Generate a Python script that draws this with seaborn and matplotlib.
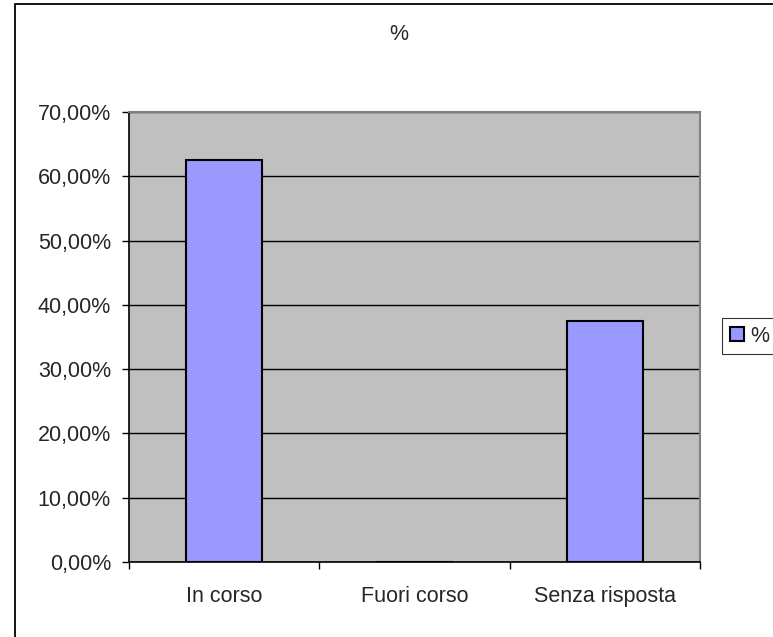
import matplotlib
matplotlib.use('Agg')
import matplotlib.pyplot as plt
from matplotlib.patches import Rectangle
from matplotlib.ticker import FuncFormatter, FixedLocator
import pandas as pd
import seaborn as sns

# data
categories = ['In corso', 'Fuori corso', 'Senza risposta']
values = [62.5, 0.0, 37.5]
series_name = '%'
y_ticks = [0, 10, 20, 30, 40, 50, 60, 70]

df = pd.DataFrame({'cat': categories, 'val': values})

sns.set_style('white')
plt.rcParams['font.family'] = ['Liberation Sans', 'DejaVu Sans']
FS = 15.5

W, H = 773, 637
fig = plt.figure(figsize=(W / 100, H / 100), dpi=100)
fig.patch.set_facecolor('white')

# outer chart border (right and bottom edges fall outside the picture)
fig.patches.append(Rectangle((15 / W, -0.2), 1.5, 1 - 4 / H + 0.2,
                             transform=fig.transFigure, fill=False,
                             edgecolor='black', linewidth=1.3))

left, right, top, bottom = 129, 700, 112, 562
ax = fig.add_axes([left / W, 1 - bottom / H, (right - left) / W, (bottom - top) / H])

sns.barplot(data=df, x='cat', y='val', color='#9999FF', edgecolor='black',
            linewidth=1.5, width=0.4, ax=ax, saturation=1)

ax.set_facecolor('#C0C0C0')
ax.set_xlim(-0.5, 2.5)
ax.set_ylim(0, 70)
ax.set_xlabel('')
ax.set_ylabel('')

ax.yaxis.set_major_locator(FixedLocator(y_ticks))
ax.yaxis.set_major_formatter(FuncFormatter(lambda v, p: f'{v:.2f}%'.replace('.', ',')))
ax.grid(axis='y', color='black', linewidth=1)
ax.grid(axis='x', visible=False)
ax.set_axisbelow(True)

ax.tick_params(axis='y', which='major', direction='out', length=5, width=1,
               color='black', pad=8, labelsize=FS, left=True)
ax.tick_params(axis='x', which='major', length=0, pad=17, labelsize=FS)
ax.xaxis.set_minor_locator(FixedLocator([-0.5, 0.5, 1.5, 2.5]))
ax.tick_params(axis='x', which='minor', direction='out', length=5, width=1,
               color='black', bottom=True)

for s in ['left', 'bottom']:
    ax.spines[s].set_color('black')
    ax.spines[s].set_linewidth(1.2)
for s in ['top', 'right']:
    ax.spines[s].set_color('#808080')
    ax.spines[s].set_linewidth(1.5)
    ax.spines[s].set_visible(True)

fig.text(399 / W, 1 - 35 / H, '%', ha='center', va='center', fontsize=FS)

leg = ax.legend(handles=[ax.patches[0]], labels=[series_name],
                loc='upper left', bbox_to_anchor=(722 / W, 1 - 318 / H),
                bbox_transform=fig.transFigure, frameon=True, fancybox=False,
                handlelength=0.65, handleheight=0.65, handletextpad=0.3,
                borderpad=0.35, borderaxespad=0, fontsize=FS)
leg.get_frame().set_edgecolor('black')
leg.get_frame().set_linewidth(0.8)

fig.savefig('out.png', dpi=100)
